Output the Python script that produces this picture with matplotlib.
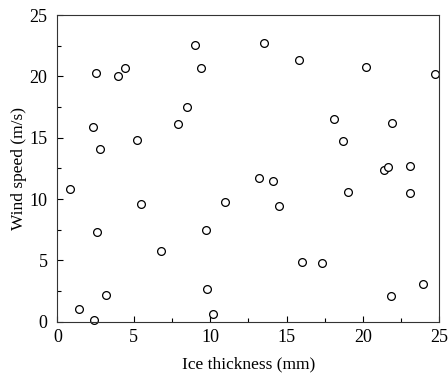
import matplotlib.pyplot as plt
from matplotlib.ticker import MultipleLocator

# Ice thickness (mm) and wind speed (m/s)
ice_thickness = [0.8, 1.4, 2.4, 2.3, 2.5, 2.6, 2.8, 3.2, 4.0, 4.4,
                 5.2, 5.5, 6.8, 7.9, 8.5, 9.0, 9.4, 9.7, 9.8, 10.2,
                 11.0, 13.2, 13.5, 14.1, 14.5, 15.8, 16.0, 17.3, 18.1, 18.7,
                 19.0, 20.2, 21.4, 21.6, 21.8, 21.9, 23.1, 23.1, 23.9, 24.7]
wind_speed = [10.8, 1.0, 0.15, 15.9, 20.3, 7.3, 14.1, 2.2, 20.0, 20.7,
              14.8, 9.6, 5.8, 16.1, 17.5, 22.6, 20.7, 7.5, 2.7, 0.6,
              9.8, 11.7, 22.7, 11.5, 9.4, 21.3, 4.9, 4.8, 16.5, 14.7,
              10.6, 20.8, 12.4, 12.6, 2.1, 16.2, 12.7, 10.5, 3.1, 20.2]

plt.rcParams['font.family'] = ['Liberation Serif', 'DejaVu Serif']

fig = plt.figure(figsize=(4.48, 3.78), dpi=100)
ax = fig.add_axes([0.128, 0.149, 0.853, 0.811])

ax.plot(ice_thickness, wind_speed, linestyle='none', marker='o',
        markersize=5.6, markerfacecolor='white', markeredgecolor='black',
        markeredgewidth=0.9, clip_on=False)

ax.set_xlim(0, 25)
ax.set_ylim(0, 25)
ax.xaxis.set_major_locator(MultipleLocator(5))
ax.yaxis.set_major_locator(MultipleLocator(5))
ax.xaxis.set_minor_locator(MultipleLocator(2.5))
ax.yaxis.set_minor_locator(MultipleLocator(2.5))
ax.tick_params(which='both', direction='in', top=False, right=False, width=0.8)
ax.tick_params(which='major', length=4, labelsize=13)
ax.tick_params(axis='x', which='major', pad=5)
ax.tick_params(axis='y', which='major', pad=7)
ax.tick_params(which='minor', length=3)
for s in ax.spines.values():
    s.set_linewidth(0.8)
    s.set_color('#333333')

ax.set_xlabel('Ice thickness (mm)', fontsize=12.5, labelpad=8)
ax.set_ylabel('Wind speed (m/s)', fontsize=12.5, labelpad=2)

fig.savefig('out.png', dpi=100)
